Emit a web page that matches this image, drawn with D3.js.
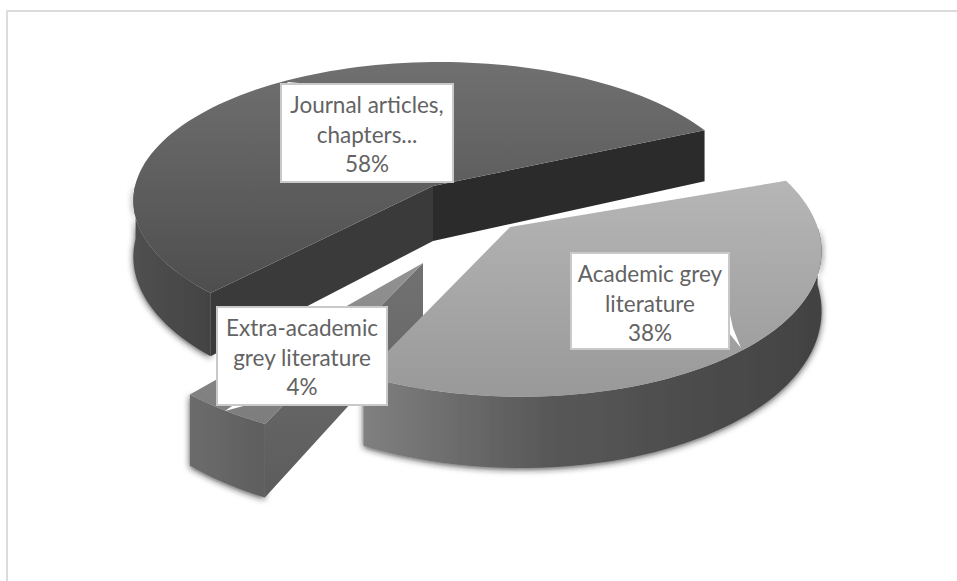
<!DOCTYPE html>
<html>
<head>
<meta charset="utf-8">
<script src="https://cdn.jsdelivr.net/npm/d3@7"></script>
<style>
  html, body { margin: 0; padding: 0; background: #fff; }
  svg { display: block; }
  text { font-family: Lato, "Open Sans", sans-serif; fill: #636363; }
</style>
</head>
<body>
<div id="chart"></div>
<script>
// Chart data
const categories = ["Academic grey literature", "Extra-academic grey literature", "Journal articles, chapters..."];
const shares = [38, 4, 58];
const labelLines = [["Academic grey", "literature", "38%"], ["Extra-academic", "grey literature", "4%"], ["Journal articles,", "chapters...", "58%"]];

const width = 957, height = 581;

const svg = d3.select("#chart").append("svg")
    .attr("width", width)
    .attr("height", height);

const defs = svg.append("defs");

// Soft shadow under the walls
const shadow = defs.append("filter").attr("id", "shadow")
    .attr("x", "-10%").attr("y", "-10%").attr("width", "120%").attr("height", "130%");
shadow.append("feDropShadow")
    .attr("dx", 0).attr("dy", 1.5).attr("stdDeviation", 3)
    .attr("flood-color", "#222").attr("flood-opacity", 0.8);

function gradient(id, x2, y2, stops) {
    const g = defs.append("linearGradient").attr("id", id)
        .attr("x1", 0).attr("y1", 0).attr("x2", x2).attr("y2", y2);
    stops.forEach(([o, c]) => g.append("stop").attr("offset", o).attr("stop-color", c));
    return `url(#${id})`;
}

// Slice styles, same order as the data
// offset = where the slice apex sits, rimShift = rim centre relative to apex,
// nudge = small angle corrections (degrees) to follow the distorted 3D look
const styles = [
    {
        top: gradient("topA", 0, 1, [[0, "#b6b6b6"], [1, "#999999"]]),
        wall: gradient("wallA", 1, 0, [[0, "#808080"], [0.4, "#585858"], [1, "#424242"]]),
        offset: [0.247, 0.283],
        rimShift: [0, 0],
        radius: [0.985, 0.985],
        nudge: [2, 1]
    },
    {
        top: gradient("topB", 0, 1, [[0, "#929292"], [1, "#7d7d7d"]]),
        wall: gradient("wallB", 1, 0, [[0, "#6c6c6c"], [1, "#5e5e5e"]]),
        cutStart: gradient("cutB", 0, 1, [[0, "#727272"], [1, "#5c5c5c"]]),
        offset: [-0.031, 0.516],
        rimShift: [0, 0],
        radius: [0.985, 0.985],
        nudge: [0, 1]
    },
    {
        top: gradient("topC", 0, 1, [[0, "#707070"], [1, "#4e4e4e"]]),
        wall: gradient("wallC", 1, 0, [[0, "#505050"], [1, "#434343"]]),
        cutStart: "#3a3a3a",
        cutEnd: "#2b2b2b",
        offset: [0, 0],
        rimShift: [0.025, -0.015],
        radius: [1.015, 0.985],
        nudge: [3.3, -3.3]
    }
];

// Pie angles, clockwise from 12 o'clock
const rad = Math.PI / 180;
const pie = d3.pie().sort(null).startAngle(69 * rad).endAngle(429 * rad);
const arcs = pie(shares);

// Perspective projection of the pie plane on to the screen
const originX = 433, originY = 186, scaleX = 301, scaleY = 139.6, perspective = 0.126;
const thickness = 55;

function project(u, v, lower) {
    const s = 1 / (1 - perspective * v);
    return [
        originX + scaleX * u * s,
        originY + scaleY * v * s + (lower ? thickness * Math.pow(s, 1.5) : 0)
    ];
}

const line = d3.line();

function drawSlice(d, st) {
    const g = svg.append("g");
    const off = st.offset;
    const a0 = d.startAngle + st.nudge[0] * rad, a1 = d.endAngle + st.nudge[1] * rad;

    const rimPoint = (a, lower) => project(
        off[0] + st.rimShift[0] + st.radius[0] * Math.sin(a),
        off[1] + st.rimShift[1] - st.radius[1] * Math.cos(a),
        lower
    );

    const rim = (from, to, lower) => {
        const n = Math.max(2, Math.ceil(Math.abs(to - from) / (rad * 2)));
        return d3.range(n + 1).map(i => rimPoint(from + (to - from) * i / n, lower));
    };

    // Outer wall, only the part that faces the viewer (90 to 270 degrees)
    const w0 = Math.max(a0, 90 * rad), w1 = Math.min(a1, 270 * rad);
    if (w1 > w0) {
        g.append("path")
            .attr("d", line(rim(w0, w1, false).concat(rim(w1, w0, true))) + "Z")
            .attr("fill", st.wall)
            .attr("filter", "url(#shadow)");
    }

    // Cut faces
    const apex = project(off[0], off[1], false), apexLow = project(off[0], off[1], true);
    const cut = (a, fill) => g.append("path")
        .attr("d", line([apex, rimPoint(a, false), rimPoint(a, true), apexLow]) + "Z")
        .attr("fill", fill);
    if (st.cutEnd) cut(a1, st.cutEnd);
    if (st.cutStart) cut(a0, st.cutStart);

    // Top face
    g.append("path")
        .attr("d", line([apex].concat(rim(a0, a1, false))) + "Z")
        .attr("fill", st.top);
}

// Back slice first, front slice last
[2, 1, 0].forEach(i => drawSlice(arcs[i], styles[i]));

// Frame
const frame = d3.path();
frame.moveTo(7, height);
frame.lineTo(7, 11);
frame.lineTo(width, 11);
svg.append("path").attr("d", frame.toString())
    .attr("fill", "none").attr("stroke", "#dcdcdc").attr("stroke-width", 2);

// Label boxes with their small callout tails
const boxes = [
    { x: 571, y: 253, w: 158, h: 96, tail: [[729, 310], [733, 328], [741, 348], [729, 333]] },
    { x: 217, y: 307, w: 170, h: 98, tail: [[225, 411], [247, 405], [236, 403]] },
    { x: 281, y: 84, w: 172, h: 98, tail: [[286, 84], [288, 82], [310, 84]] }
];

boxes.forEach((b, i) => {
    svg.append("path").attr("d", line(b.tail) + "Z").attr("fill", "#fff");
    svg.append("rect")
        .attr("x", b.x).attr("y", b.y).attr("width", b.w).attr("height", b.h)
        .attr("fill", "#fff").attr("stroke", "#c9c9c9").attr("stroke-width", 2);
    svg.append("text")
        .attr("text-anchor", "middle")
        .attr("font-size", 22.5)
        .selectAll("tspan")
        .data(labelLines[i])
        .join("tspan")
        .attr("x", b.x + b.w / 2)
        .attr("y", (t, j) => b.y + 29 + j * 29.7)
        .text(t => t);
});
</script>
</body>
</html>
